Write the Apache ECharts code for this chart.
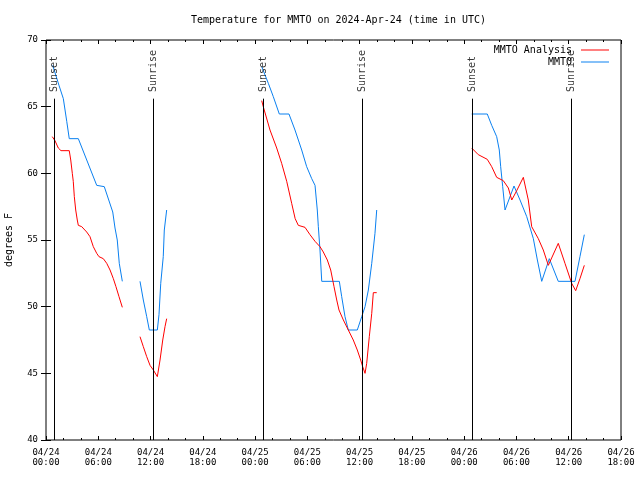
<!DOCTYPE html>
<html><head><meta charset="utf-8">
<script src="https://cdn.jsdelivr.net/npm/echarts@6/dist/echarts.min.js"></script>
<style>html,body{margin:0;padding:0;background:#fff}#c{width:640px;height:480px}</style>
</head><body><div id="c"></div>
<script>
// hours since 2024-04-24 00:00 UTC; null = gap
const analysisTimes = [0.72,1.03,1.41,1.72,2.67,2.84,3.02,3.13,3.25,3.41,3.59,3.71,4.10,4.67,5.05,5.43,5.82,6.08,6.58,6.97,7.35,7.73,8.03,8.38,8.76,
  9.7,
  10.79,11.17,11.56,11.94,12.32,12.51,12.78,13.09,13.40,13.66,13.85,
  19,
  24.76,24.94,25.71,26.48,27.05,27.63,28.20,28.60,28.96,29.73,30.30,30.88,31.45,31.83,32.29,32.68,33.06,33.37,33.63,34.13,34.70,35.27,35.73,36.12,36.35,36.62,36.81,37.11,37.39,37.57,37.96,
  43,
  48.86,49.62,50.65,51.16,51.73,52.49,53.07,53.46,54.03,54.79,55.36,55.75,56.51,57.08,57.66,58.80,59.57,60.34,60.80,61.29,61.79];
const analysisTemps = [62.75,62.45,61.9,61.7,61.7,61.0,60.0,59.4,58.25,57.25,56.5,56.1,56.0,55.6,55.25,54.5,54.0,53.75,53.6,53.25,52.75,52.1,51.5,50.75,49.95,
  null,
  47.75,47.0,46.25,45.6,45.25,45.1,44.75,46.0,47.5,48.5,49.1,
  null,
  65.45,65.0,63.25,61.9,60.75,59.4,57.75,56.6,56.1,55.95,55.4,54.9,54.5,54.1,53.5,52.75,51.5,50.5,49.75,49.0,48.25,47.5,46.75,46.0,45.5,45.0,45.75,47.75,49.5,51.05,51.05,
  null,
  61.9,61.4,61.05,60.5,59.7,59.45,58.9,58.0,58.7,59.7,58.0,56.0,55.1,54.25,53.1,54.75,53.25,51.75,51.2,52.1,53.1];

const mmtoTimes = [0.77,1.49,1.99,2.38,2.67,3.71,5.82,6.69,7.66,7.92,8.18,8.41,8.76,
  9.7,
  10.79,11.17,11.56,11.86,12.78,12.97,13.17,13.46,13.58,13.85,
  19,
  24.76,25.52,26.09,26.78,27.89,28.58,29.35,29.92,30.50,30.88,31.14,31.26,31.45,31.65,33.67,33.94,34.32,34.70,35.73,36.24,36.62,37.00,37.39,37.76,37.96,
  43,
  48.86,50.65,51.16,51.73,52.03,52.19,52.42,52.69,53.72,54.41,55.18,55.94,56.40,56.90,57.77,58.80,60.72,61.29,61.79];
const mmtoTemps = [68.1,66.6,65.6,63.9,62.6,62.6,59.1,59.0,57.1,55.9,55.0,53.25,51.9,
  null,
  51.9,50.5,49.25,48.25,48.25,49.4,51.75,53.75,55.75,57.25,
  null,
  68.0,66.75,65.75,64.45,64.45,63.25,61.75,60.5,59.6,59.1,57.25,56.0,54.25,51.9,51.9,50.75,49.25,48.25,48.25,49.25,50.0,51.25,53.25,55.5,57.25,
  null,
  64.45,64.45,63.6,62.75,61.75,60.5,59.0,57.25,59.05,58.0,56.75,55.1,53.5,51.9,53.6,51.9,51.9,53.75,55.4];

const eventNames = ['Sunset','Sunrise','Sunset','Sunrise','Sunset','Sunrise'];
const eventTimes = [1.0,12.28,24.91,36.27,48.9,60.26];

const xTickLabels = ['04/24\n00:00','04/24\n06:00','04/24\n12:00','04/24\n18:00','04/25\n00:00','04/25\n06:00','04/25\n12:00','04/25\n18:00','04/26\n00:00','04/26\n06:00','04/26\n12:00','04/26\n18:00'];
const seriesNames = ['MMTO Analysis','MMTO'];

const FONT = 'DejaVu Sans Mono';
const pair = (ts, vs) => ts.map((t,i) => [t, vs[i]]);
const lineTop = 65.6, labelBase = 66.1;

const chart = echarts.init(document.getElementById('c'), null, {renderer:'canvas'});
chart.setOption({
  animation: false,
  backgroundColor: '#fff',
  title: { text: 'Temperature for MMTO on 2024-Apr-24 (time in UTC)', left: 186, top: 10,
    textStyle: { fontFamily: FONT, fontSize: 10, fontWeight: 'normal', color: '#000' } },
  grid: { left: 46, right: 19, top: 40, bottom: 40, show: true, borderColor: '#000', borderWidth: 1,
    backgroundColor: 'transparent', containLabel: false, outerBoundsMode: 'none' },
  legend: [
    { data: [seriesNames[0]], right: 31, top: 45, align: 'right', icon: 'rect', itemWidth: 28, itemHeight: 1,
      textStyle: { fontFamily: FONT, fontSize: 10, color: '#000', padding: [0,4,0,0] }, padding: 0 },
    { data: [seriesNames[1]], right: 31, top: 57, align: 'right', icon: 'rect', itemWidth: 28, itemHeight: 1,
      textStyle: { fontFamily: FONT, fontSize: 10, color: '#000', padding: [0,4,0,0] }, padding: 0 }
  ],
  xAxis: [
    { type: 'value', min: 0, max: 66, interval: 6, position: 'bottom',
      axisLine: { show: false }, splitLine: { show: false },
      axisTick: { inside: true, length: 4, lineStyle: { color: '#000' } },
      minorTick: { show: true, splitNumber: 3, length: 2, lineStyle: { color: '#000' } },
      axisLabel: { margin: 8, fontFamily: FONT, fontSize: 9, color: '#000', lineHeight: 10,
        formatter: v => xTickLabels[Math.round(v/6)] } },
    { type: 'value', min: 0, max: 66, interval: 6, position: 'top',
      axisLine: { show: false }, splitLine: { show: false },
      axisTick: { inside: true, length: 4, lineStyle: { color: '#000' } },
      minorTick: { show: true, splitNumber: 3, length: 2, lineStyle: { color: '#000' } },
      axisLabel: { show: false } }
  ],
  yAxis: [
    { type: 'value', min: 40, max: 70, interval: 5, position: 'left',
      name: 'degrees F', nameLocation: 'middle', nameGap: 32, nameRotate: 90,
      nameTextStyle: { fontFamily: FONT, fontSize: 10, color: '#000' },
      axisLine: { show: false }, splitLine: { show: false },
      axisTick: { inside: true, length: 5, lineStyle: { color: '#000' } },
      axisLabel: { margin: 8, fontFamily: FONT, fontSize: 9, color: '#000' } },
    { type: 'value', min: 40, max: 70, interval: 5, position: 'right',
      axisLine: { show: false }, splitLine: { show: false },
      axisTick: { inside: true, length: 5, lineStyle: { color: '#000' } },
      axisLabel: { show: false } }
  ],
  series: [
    { name: seriesNames[0], type: 'line', data: pair(analysisTimes, analysisTemps), showSymbol: false, symbol: 'none',
      connectNulls: false, color: '#ff0000', lineStyle: { width: 1, color: '#ff0000' }, z: 3,
      markLine: { silent: true, symbol: 'none', label: { show: false },
        lineStyle: { color: '#000', width: 1, type: 'solid' },
        data: eventTimes.map(t => [{ coord: [t, 40] }, { coord: [t, lineTop] }]) } },
    { name: seriesNames[1], type: 'line', data: pair(mmtoTimes, mmtoTemps), showSymbol: false, symbol: 'none',
      connectNulls: false, color: '#0a80f0', lineStyle: { width: 1, color: '#0a80f0' }, z: 2 },
    { name: 'events', type: 'scatter', symbolSize: 0, silent: true, z: 4,
      data: eventTimes.map((t,i) => [t, labelBase, eventNames[i]]),
      label: { show: true, position: 'inside', rotate: 90, align: 'left', verticalAlign: 'middle',
        formatter: p => p.data[2], fontFamily: FONT, fontSize: 10, color: '#000' } }
  ]
});
</script></body></html>
